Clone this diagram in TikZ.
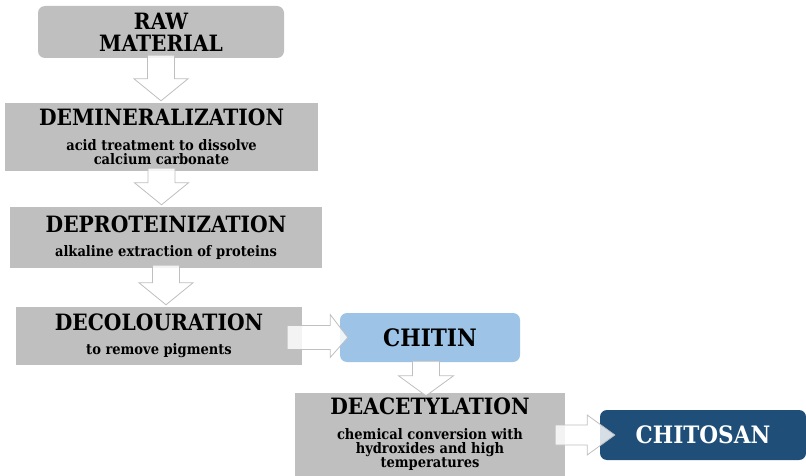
\documentclass[tikz,border=0pt]{standalone}
\usepackage{fontspec}
\setmainfont{DejaVu Serif Condensed}
\usetikzlibrary{calc}

\definecolor{boxgray}{RGB}{191,191,191}
\definecolor{chitinblue}{RGB}{157,195,230}
\definecolor{chitosanblue}{RGB}{31,78,121}

\newcommand{\titlefont}{\fontsize{22.5}{22}\selectfont\bfseries}
\newcommand{\notefont}{\fontsize{14.5}{14}\selectfont\bfseries}
\newcommand{\productfont}{\fontsize{24}{26}\selectfont\bfseries}

\tikzset{
  stage/.style={fill=boxgray, inner sep=0pt, align=center, font=\notefont},
  product/.style={rounded corners=7pt, inner sep=0pt, align=center, font=\productfont},
  flowarrow/.style={draw=black!25, line width=0.8pt, fill=white, fill opacity=0.82, line join=miter}
}

\begin{document}
\begin{tikzpicture}[x=1pt,y=1pt]
  \useasboundingbox (0,0) rectangle (806,-476);

  % process stages
  \node[stage, rounded corners=7pt, minimum width=246pt, minimum height=52pt, font=\titlefont] (raw) at (161,-32) {RAW\\MATERIAL};
  \node[stage, minimum width=313pt, minimum height=68pt] (demin) at (161.5,-137)
    {\titlefont DEMINERALIZATION\\[11pt]acid treatment to dissolve\\calcium carbonate};
  \node[stage, minimum width=312pt, minimum height=61pt] (deprot) at (166,-237.5)
    {\titlefont DEPROTEINIZATION\\[10pt]alkaline extraction of proteins};
  \node[stage, minimum width=286pt, minimum height=58pt] (decol) at (159,-336)
    {\titlefont DECOLOURATION\\[10pt]to remove pigments};
  \node[stage, minimum width=270pt, minimum height=83pt] (deacet) at (430,-434.5)
    {\titlefont DEACETYLATION\\[11pt]chemical conversion with\\hydroxides and high\\temperatures};

  % products
  \node[product, fill=chitinblue, minimum width=180pt, minimum height=49pt] (chitin) at (430,-337.5) {CHITIN};
  \node[product, fill=chitosanblue, text=white, minimum width=206pt, minimum height=50pt] (chitosan) at (703,-435) {CHITOSAN};

  % block arrows down
  \foreach \from/\to in {raw/demin, demin/deprot, deprot/decol} {
    \draw[flowarrow] let \p1=(\from.south), \p2=(\to.north) in
      (-13.5+\x1,3+\y1) -- (13.5+\x1,3+\y1) -- (13.5+\x1,\y2+24) -- (27+\x1,\y2+24)
      -- (\x1,\y2+2) -- (-27+\x1,\y2+24) -- (-13.5+\x1,\y2+24) -- cycle;
  }
  \draw[flowarrow] let \p1=(chitin.south), \p2=(deacet.north) in
    (-17.5+\x1,1+\y1) -- (9.5+\x1,1+\y1) -- (9.5+\x1,\y2+17) -- (23.5+\x1,\y2+17)
    -- (-4+\x1,\y2-3) -- (-31.5+\x1,\y2+17) -- (-17.5+\x1,\y2+17) -- cycle;

  % block arrows right
  \draw[flowarrow] let \p1=(decol.east), \p2=(chitin.west) in
    (\x1-15,\y2+12) -- (\x1+28,\y2+12) -- (\x1+28,\y2+23) -- (\x2+8,\y2)
    -- (\x1+28,\y2-20) -- (\x1+28,\y2-12) -- (\x1-15,\y2-12) -- cycle;
  \draw[flowarrow] let \p1=(deacet.east), \p2=(chitosan.west) in
    (\x1-10,\y2+10) -- (\x1+22,\y2+10) -- (\x1+22,\y2+20) -- (\x2+15,\y2)
    -- (\x1+22,\y2-20) -- (\x1+22,\y2-10) -- (\x1-10,\y2-10) -- cycle;
\end{tikzpicture}
\end{document}
